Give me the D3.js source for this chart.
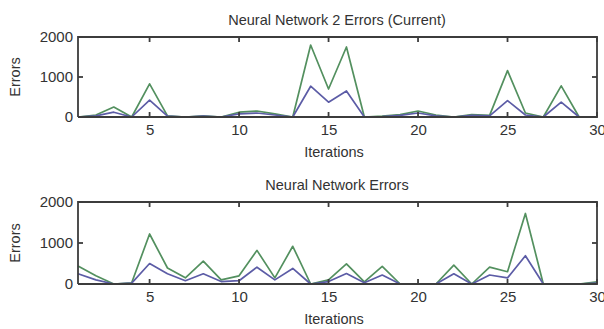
<!DOCTYPE html><html>
<head>
<meta charset="utf-8">
<style>
body { margin: 0; padding: 0; background: #fff; }
svg { display: block; }
text { font-family: "Liberation Sans", Arial, sans-serif; fill: #333; }
</style>
</head>
<body>
<svg id="chart" width="604" height="329"></svg>
<script src="https://cdn.jsdelivr.net/npm/d3@7"></script>
<script>
// iterations 1..30
var iterations = d3.range(1, 31);
var xTicks = [5, 10, 15, 20, 25, 30];
var yTicks = [0, 1000, 2000];

// top panel: network 2 (current)
var topGreen = [0, 50, 250, 0, 830, 30, 0, 30, 0, 120, 150, 80, 0, 1800, 700, 1750, 0, 20, 60, 150, 50, 0, 60, 40, 1160, 100, 0, 780, 0, 0];
var topBlue  = [0, 30, 120, 0, 420, 20, 0, 20, 0, 80, 100, 50, 0, 770, 370, 650, 0, 10, 40, 100, 30, 0, 40, 30, 410, 50, 0, 370, 0, 0];

// bottom panel: network
var botGreen = [440, 200, 0, 30, 1220, 390, 150, 560, 100, 200, 820, 150, 920, 0, 100, 490, 50, 430, 0, 0, 0, 460, 0, 410, 300, 1720, 0, 0, 0, 50];
var botBlue  = [250, 100, 0, 20, 500, 250, 80, 250, 60, 80, 410, 100, 380, 0, 60, 255, 30, 220, 0, 0, 0, 250, 0, 220, 150, 690, 0, 0, 0, 20];

var panels = [
    { title: "Neural Network 2 Errors (Current)", top: 37, bottom: 117, green: topGreen, blue: topBlue },
    { title: "Neural Network Errors", top: 202, bottom: 284, green: botGreen, blue: botBlue }
];

var frameColor = "#3c3c3c";

var svg = d3.select("#chart");
var x = d3.scaleLinear().domain([1, 30]).range([78, 597]);

panels.forEach(function(p) {
    var y = d3.scaleLinear().domain([0, 2000]).range([p.bottom, p.top]);
    var g = svg.append("g");
    var x0 = x.range()[0], x1 = x.range()[1];

    var line = d3.line().x((d, i) => x(iterations[i])).y(d => y(d));

    g.append("path").datum(p.green)
        .attr("fill", "none").attr("stroke-width", 1.7).attr("stroke-linejoin", "round")
        .attr("stroke", "#53905f").attr("d", line);
    g.append("path").datum(p.blue)
        .attr("fill", "none").attr("stroke-width", 1.7).attr("stroke-linejoin", "round")
        .attr("stroke", "#5c5ca6").attr("d", line);

    // frame: closed outline through the four corners
    var corners = [[1, 0], [30, 0], [30, 2000], [1, 2000], [1, 0]];
    var frameLine = d3.line().x(d => x(d[0])).y(d => y(d[1]));
    g.append("path").datum(corners)
        .attr("fill", "none").attr("stroke", frameColor).attr("stroke-width", 1.8)
        .attr("d", frameLine);

    // inner tick marks, each a two-point line
    var tickSegs = [];
    xTicks.forEach(function(t) {
        tickSegs.push([[x(t), p.bottom], [x(t), p.bottom - 5]]);
        tickSegs.push([[x(t), p.top], [x(t), p.top + 5]]);
    });
    yTicks.forEach(function(t) {
        tickSegs.push([[x0, y(t)], [x0 + 5, y(t)]]);
        tickSegs.push([[x1, y(t)], [x1 - 5, y(t)]]);
    });
    g.selectAll("path.tk").data(tickSegs).enter().append("path")
        .attr("class", "tk")
        .attr("fill", "none").attr("stroke", frameColor).attr("stroke-width", 1.8)
        .attr("d", d3.line());

    // tick labels from d3 axes
    var ax = g.append("g").attr("transform", "translate(0," + p.bottom + ")")
        .call(d3.axisBottom(x).tickValues(xTicks).tickSize(0).tickPadding(6).tickFormat(d3.format("d")));
    var ay = g.append("g").attr("transform", "translate(" + x0 + ",0)")
        .call(d3.axisLeft(y).tickValues(yTicks).tickSize(0).tickPadding(5).tickFormat(d3.format("d")));

    [ax, ay].forEach(function(a) {
        a.select(".domain").remove();
        a.selectAll(".tick line").remove();
        a.selectAll("text").style("font-size", "15px").attr("fill", "#333")
            .style("font-family", "'Liberation Sans', Arial, sans-serif");
    });
    ax.selectAll("text").attr("dy", "0.8em");

    g.append("text").attr("x", 337).attr("y", p.top - 12)
        .attr("text-anchor", "middle").style("font-size", "14.5px")
        .text(p.title);

    g.append("text").attr("x", 334).attr("y", p.bottom + 40)
        .attr("text-anchor", "middle").style("font-size", "14.5px")
        .text("Iterations");

    g.append("text")
        .attr("transform", "translate(20," + ((p.top + p.bottom) / 2) + ") rotate(-90)")
        .attr("text-anchor", "middle").style("font-size", "14.5px")
        .text("Errors");
});
</script>
</body>
</html>
